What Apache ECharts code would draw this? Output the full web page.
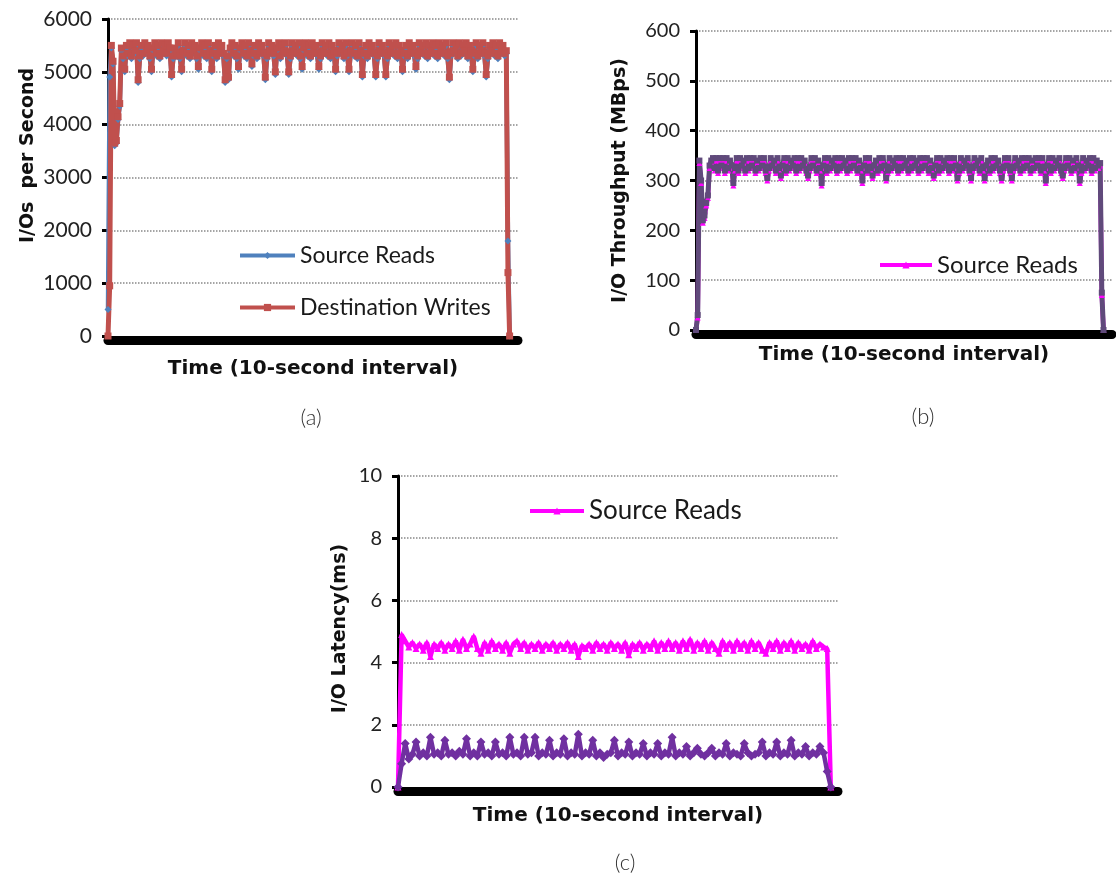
<!DOCTYPE html>
<html>
<head>
<meta charset="utf-8">
<script src="https://cdn.jsdelivr.net/npm/echarts@6/dist/echarts.min.js"></script>
<style>
html, body { margin: 0; padding: 0; background: #fff; }
#chart { width: 1116px; height: 880px; }
</style>
</head>
<body>
<div id="chart"></div>
<script>
// (a) I/Os per second, one value per 10-second sample
var readsA = [500, 4900, 5450, 5150, 3600, 3650, 4100, 4350, 5400, 5250,
  5000, 5450, 5300, 5500, 5250, 5450, 5350, 5500, 4800, 5250,
  5450, 5300, 5500, 5350, 5450, 5250, 5000, 5400, 5500, 5300,
  5450, 5250, 5500, 5350, 5450, 5300, 5500, 5400, 4900, 5250,
  5400, 5300, 5500, 5250, 5000, 5350, 5500, 5300, 5450, 5250,
  5500, 5350, 5450, 5250, 5050, 5400, 5500, 5300, 5450, 5250,
  5500, 5350, 5000, 5300, 5450, 5250, 5500, 5350, 5450, 5300,
  4800, 5250, 4850, 5400, 5500, 5300, 5450, 5250, 5050, 5400,
  5500, 5300, 5450, 5250, 5500, 5350, 5100, 5300, 5450, 5250,
  5500, 5350, 5450, 5300, 4850, 5250, 5500, 5350, 5450, 5300,
  4950, 5400, 5500, 5250, 5450, 5350, 5500, 5300, 4950, 5250,
  5500, 5350, 5450, 5300, 5500, 5250, 5050, 5400, 5500, 5300,
  5450, 5250, 5500, 5350, 5450, 5300, 5050, 5250, 5500, 5350,
  5450, 5300, 5500, 5250, 5450, 5350, 5000, 5300, 5500, 5350,
  5450, 5250, 5500, 5300, 5000, 5350, 5500, 5300, 5450, 5250,
  5500, 5350, 4900, 5300, 5450, 5250, 5500, 5350, 5450, 5300,
  4900, 5250, 5500, 5350, 5450, 5300, 4900, 5250, 5500, 5350,
  5450, 5300, 5500, 5250, 5450, 5350, 5000, 5300, 5450, 5250,
  5500, 5350, 5450, 5300, 5050, 5250, 5500, 5350, 5450, 5300,
  5500, 5250, 5450, 5350, 5500, 5300, 5450, 5250, 5500, 5350,
  5450, 5300, 5500, 5250, 4850, 5300, 5500, 5350, 5450, 5250,
  5500, 5300, 5450, 5350, 5500, 5250, 5450, 5350, 5000, 5300,
  5500, 5250, 5450, 5350, 5500, 5300, 4900, 5250, 5450, 5350,
  5500, 5300, 5450, 5250, 5500, 5350, 5450, 5300, 5350, 1800,
  0];
var writesA = [0, 950, 5500, 5200, 3650, 3700, 4150, 4400, 5450, 5300,
  5050, 5500, 5350, 5550, 5300, 5500, 5400, 5550, 4850, 5300,
  5500, 5350, 5550, 5400, 5500, 5300, 5050, 5450, 5550, 5350,
  5500, 5300, 5550, 5400, 5500, 5350, 5550, 5450, 4950, 5300,
  5450, 5350, 5550, 5300, 5050, 5400, 5550, 5350, 5500, 5300,
  5550, 5400, 5500, 5300, 5100, 5450, 5550, 5350, 5500, 5300,
  5550, 5400, 5050, 5350, 5500, 5300, 5550, 5400, 5500, 5350,
  4850, 5300, 4900, 5450, 5550, 5350, 5500, 5300, 5100, 5450,
  5550, 5350, 5500, 5300, 5550, 5400, 5150, 5350, 5500, 5300,
  5550, 5400, 5500, 5350, 4900, 5300, 5550, 5400, 5500, 5350,
  5000, 5450, 5550, 5300, 5500, 5400, 5550, 5350, 5000, 5300,
  5550, 5400, 5500, 5350, 5550, 5300, 5100, 5450, 5550, 5350,
  5500, 5300, 5550, 5400, 5500, 5350, 5100, 5300, 5550, 5400,
  5500, 5350, 5550, 5300, 5500, 5400, 5050, 5350, 5550, 5400,
  5500, 5300, 5550, 5350, 5050, 5400, 5550, 5350, 5500, 5300,
  5550, 5400, 4950, 5350, 5500, 5300, 5550, 5400, 5500, 5350,
  4950, 5300, 5550, 5400, 5500, 5350, 4950, 5300, 5550, 5400,
  5500, 5350, 5550, 5300, 5500, 5400, 5050, 5350, 5500, 5300,
  5550, 5400, 5500, 5350, 5100, 5300, 5550, 5400, 5500, 5350,
  5550, 5300, 5500, 5400, 5550, 5350, 5500, 5300, 5550, 5400,
  5500, 5350, 5550, 5300, 4900, 5350, 5550, 5400, 5500, 5300,
  5550, 5350, 5500, 5400, 5550, 5300, 5500, 5400, 5050, 5350,
  5550, 5300, 5500, 5400, 5550, 5350, 4950, 5300, 5500, 5400,
  5550, 5350, 5500, 5300, 5550, 5400, 5500, 5350, 5400, 1200,
  0];

// (b) throughput, MBps
var readsB = [0, 25, 335, 295, 215, 225, 250, 265, 325, 335,
  340, 320, 340, 315, 340, 325, 340, 315, 340, 320,
  335, 325, 290, 320, 340, 315, 340, 325, 335, 315,
  340, 320, 340, 325, 340, 315, 335, 320, 340, 325,
  340, 315, 300, 320, 340, 325, 335, 315, 340, 320,
  305, 325, 340, 315, 340, 320, 335, 325, 340, 315,
  340, 320, 340, 325, 335, 315, 305, 320, 340, 325,
  340, 315, 335, 320, 290, 325, 340, 315, 340, 320,
  335, 325, 340, 315, 340, 320, 340, 325, 335, 315,
  340, 320, 340, 325, 340, 315, 335, 320, 295, 325,
  340, 315, 340, 320, 305, 325, 335, 315, 340, 320,
  340, 325, 300, 315, 340, 320, 335, 325, 340, 315,
  340, 320, 340, 325, 335, 315, 340, 320, 340, 325,
  335, 315, 340, 320, 340, 325, 340, 315, 335, 320,
  305, 325, 340, 315, 340, 320, 335, 325, 340, 315,
  340, 320, 340, 325, 300, 315, 340, 320, 335, 325,
  340, 315, 300, 320, 340, 325, 335, 315, 340, 320,
  300, 325, 335, 315, 340, 320, 340, 325, 335, 315,
  300, 320, 340, 325, 340, 315, 300, 320, 340, 325,
  335, 315, 340, 320, 340, 325, 340, 315, 335, 320,
  340, 325, 340, 315, 340, 320, 295, 325, 340, 315,
  340, 320, 335, 325, 340, 315, 305, 320, 340, 325,
  340, 315, 335, 320, 340, 325, 295, 315, 340, 320,
  335, 325, 340, 315, 340, 320, 335, 325, 330, 70,
  0];
var writesB = [0, 30, 340, 300, 220, 230, 255, 270, 330, 340,
  345, 325, 345, 320, 345, 330, 345, 320, 345, 325,
  340, 330, 295, 325, 345, 320, 345, 330, 340, 320,
  345, 325, 345, 330, 345, 320, 340, 325, 345, 330,
  345, 320, 305, 325, 345, 330, 340, 320, 345, 325,
  310, 330, 345, 320, 345, 325, 340, 330, 345, 320,
  345, 325, 345, 330, 340, 320, 310, 325, 345, 330,
  345, 320, 340, 325, 295, 330, 345, 320, 345, 325,
  340, 330, 345, 320, 345, 325, 345, 330, 340, 320,
  345, 325, 345, 330, 345, 320, 340, 325, 300, 330,
  345, 320, 345, 325, 310, 330, 340, 320, 345, 325,
  345, 330, 305, 320, 345, 325, 340, 330, 345, 320,
  345, 325, 345, 330, 340, 320, 345, 325, 345, 330,
  340, 320, 345, 325, 345, 330, 345, 320, 340, 325,
  310, 330, 345, 320, 345, 325, 340, 330, 345, 320,
  345, 325, 345, 330, 305, 320, 345, 325, 340, 330,
  345, 320, 305, 325, 345, 330, 340, 320, 345, 325,
  305, 330, 340, 320, 345, 325, 345, 330, 340, 320,
  305, 325, 345, 330, 345, 320, 305, 325, 345, 330,
  340, 320, 345, 325, 345, 330, 345, 320, 340, 325,
  345, 330, 345, 320, 345, 325, 300, 330, 345, 320,
  345, 325, 340, 330, 345, 320, 310, 325, 345, 330,
  345, 320, 340, 325, 345, 330, 300, 320, 345, 325,
  340, 330, 345, 320, 345, 325, 340, 330, 335, 75,
  0];

// (c) latency, ms
var readsC = [0, 4.9, 4.7, 4.5, 4.65, 4.45, 4.6, 4.4, 4.65, 4.2,
  4.6, 4.45, 4.65, 4.4, 4.6, 4.45, 4.7, 4.4, 4.75, 4.45,
  4.6, 4.85, 4.45, 4.3, 4.65, 4.4, 4.7, 4.45, 4.6, 4.4,
  4.65, 4.3, 4.6, 4.7, 4.45, 4.65, 4.4, 4.6, 4.45, 4.65,
  4.4, 4.6, 4.45, 4.65, 4.4, 4.6, 4.45, 4.65, 4.4, 4.6,
  4.2, 4.55, 4.45, 4.6, 4.4, 4.65, 4.45, 4.6, 4.4, 4.65,
  4.45, 4.6, 4.4, 4.65, 4.25, 4.6, 4.45, 4.65, 4.4, 4.6,
  4.45, 4.7, 4.4, 4.65, 4.45, 4.7, 4.45, 4.65, 4.4, 4.7,
  4.45, 4.75, 4.4, 4.65, 4.45, 4.7, 4.4, 4.65, 4.45, 4.3,
  4.7, 4.45, 4.65, 4.4, 4.7, 4.45, 4.65, 4.4, 4.7, 4.45,
  4.65, 4.4, 4.3, 4.65, 4.45, 4.7, 4.4, 4.65, 4.45, 4.7,
  4.4, 4.65, 4.45, 4.6, 4.4, 4.7, 4.45, 4.6, 4.5, 4.45,
  0];
var writesC = [0, 0.75, 1.4, 0.9, 1.05, 1.45, 1.0, 1.1, 1.0, 1.6,
  1.05, 1.1, 1.0, 1.5, 1.05, 1.1, 1.0, 1.15, 1.05, 1.55,
  1.0, 1.1, 1.0, 1.45, 1.05, 1.1, 1.0, 1.45, 1.05, 1.1,
  1.0, 1.6, 1.05, 1.1, 1.0, 1.6, 1.05, 1.1, 1.6, 1.0,
  1.1, 1.05, 1.5, 1.0, 1.1, 1.05, 1.55, 1.0, 1.1, 1.05,
  1.7, 1.0, 1.1, 1.05, 1.5, 1.0, 1.1, 0.95, 1.05, 1.1,
  1.5, 1.0, 1.1, 1.05, 1.45, 1.0, 1.1, 1.05, 1.4, 1.0,
  1.1, 1.05, 1.4, 1.0, 1.1, 1.05, 1.6, 1.0, 1.1, 1.05,
  1.3, 1.0, 1.1, 1.25, 1.05, 1.0, 1.1, 1.25, 1.0, 1.1,
  1.05, 1.4, 1.0, 1.1, 1.05, 1.0, 1.4, 1.1, 1.0, 1.05,
  1.1, 1.45, 1.0, 1.1, 1.05, 1.45, 1.0, 1.1, 1.05, 1.5,
  1.0, 1.1, 1.05, 1.3, 1.0, 1.1, 1.05, 1.3, 1.1, 0.5,
  0];

var legendNames = {readsA: 'Source Reads', writesA: 'Destination Writes', readsB: 'Source Reads', readsC: 'Source Reads'};

var FONT = 'Lato';
var BOLD = 'DejaVu Sans';
var dom = document.getElementById('chart');
var myChart = echarts.init(dom);

function pts(arr) {
    return arr.map(function (v, i) { return [i, v]; });
}

function xAx(idx, max, gap) {
    return {
        type: 'value', gridIndex: idx, min: 0, max: max, offset: 4,
        name: 'Time (10-second interval)', nameLocation: 'middle', nameGap: gap,
        nameTextStyle: {fontFamily: BOLD, fontWeight: 'bold', fontSize: 20, color: '#111'},
        axisLine: {show: true, onZero: false, lineStyle: {color: '#000', width: 9}},
        axisTick: {show: false}, axisLabel: {show: false}, splitLine: {show: false}
    };
}

function yAx(idx, max, interval, name, gap, fs, shiftUp) {
    return {
        type: 'value', gridIndex: idx, min: 0, max: max, interval: interval,
        name: name, nameLocation: 'middle', nameGap: gap,
        nameTextStyle: {fontFamily: BOLD, fontWeight: 'bold', fontSize: 19, color: '#111',
            padding: [0, 0, 0, shiftUp]},
        axisLine: {show: true, lineStyle: {color: '#000', width: 3}},
        axisTick: {show: true, length: 6, lineStyle: {color: '#000', width: 3}},
        axisLabel: {fontFamily: FONT, fontSize: fs, color: '#222', margin: 16,
            formatter: function (v) { return String(v); }},
        splitLine: {show: true, showMinLine: false, lineStyle: {color: '#888', type: 'dotted', width: 1.5}}
    };
}

function line(name, idx, data, color, symbol, size, width) {
    return {
        name: name, type: 'line', xAxisIndex: idx, yAxisIndex: idx,
        data: pts(data), symbol: symbol, symbolSize: size, showSymbol: true,
        lineStyle: {color: color, width: width}, itemStyle: {color: color},
        emphasis: {disabled: true}
    };
}

function legendText(fs) {
    return {fontFamily: FONT, fontSize: fs, color: '#1a1a1a'};
}
var tagStyle = {fontFamily: FONT, fontSize: 22, fontWeight: 300, color: '#333'};

option = {
    animation: false,
    backgroundColor: '#fff',
    title: [
        {text: '(a)', left: 306, top: 402, textAlign: 'center', textStyle: tagStyle},
        {text: '(b)', left: 918, top: 401, textAlign: 'center', textStyle: tagStyle},
        {text: '(c)', left: 620, top: 847, textAlign: 'center', textStyle: tagStyle}
    ],
    legend: [
        {data: ['readsA', 'writesA'], orient: 'vertical', left: 233, top: 239, itemWidth: 55, itemHeight: 9, itemGap: 29,
         lineStyle: {width: 4}, formatter: function (n) { return legendNames[n]; },
         textStyle: legendText(23), selectedMode: false},
        {data: ['readsB'], left: 873, top: 248, itemWidth: 52, itemHeight: 9, lineStyle: {width: 4},
         formatter: function (n) { return legendNames[n]; }, textStyle: legendText(24), selectedMode: false},
        {data: ['readsC'], left: 523, top: 493, itemWidth: 54, itemHeight: 9, lineStyle: {width: 4},
         formatter: function (n) { return legendNames[n]; }, textStyle: legendText(26), selectedMode: false}
    ],
    grid: [
        {left: 108, top: 19, width: 410, height: 317},
        {left: 696, top: 31, width: 416, height: 299},
        {left: 398, top: 476, width: 440, height: 311}
    ],
    xAxis: [xAx(0, 245, 19), xAx(1, 245, 11), xAx(2, 122, 15)],
    yAxis: [
        yAx(0, 6000, 1000, 'I/Os  per Second', 70, 21, 44),
        yAx(1, 600, 100, 'I/O Throughput (MBps)', 66, 20, 0),
        yAx(2, 10, 2, 'I/O Latency(ms)', 48, 20, 6)
    ],
    series: [
        line('readsA', 0, readsA, '#4F81BD', 'diamond', 7, 4.5),
        line('writesA', 0, writesA, '#C0504D', 'rect', 7, 5),
        line('readsB', 1, readsB, '#FF00FF', 'triangle', 6, 4.5),
        line('writesB', 1, writesB, '#604A7B', 'rect', 6, 5),
        line('readsC', 2, readsC, '#FF00FF', 'triangle', 7, 4.5),
        line('writesC', 2, writesC, '#7030A0', 'diamond', 9, 4.5)
    ]
};

if (option && typeof option === 'object') {
    myChart.setOption(option);
}
</script>
</body>
</html>
